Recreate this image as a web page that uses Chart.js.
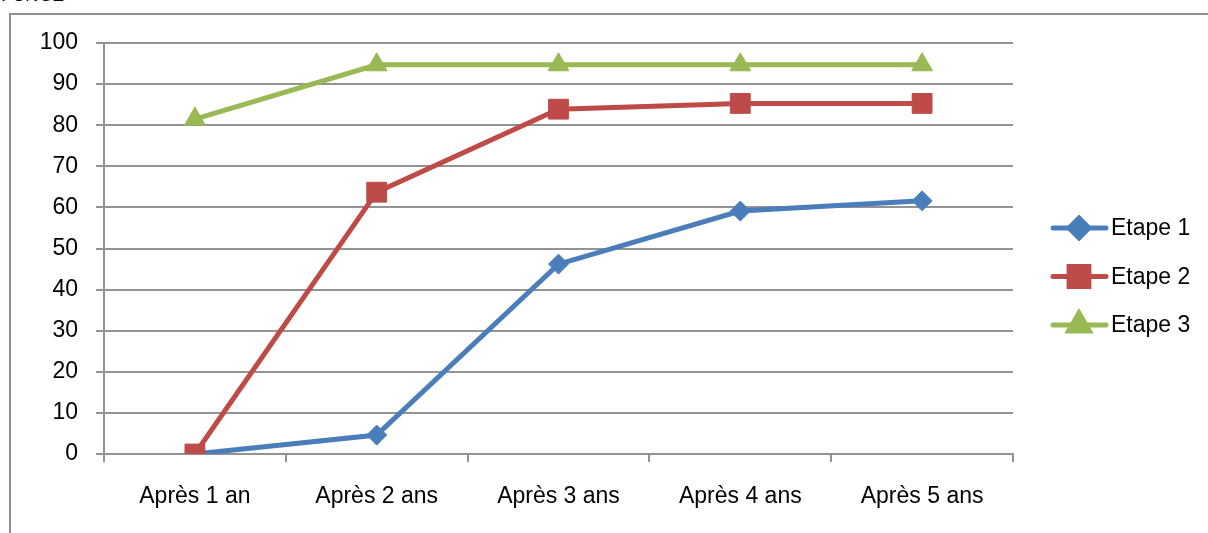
<!DOCTYPE html>
<html>
<head>
<meta charset="utf-8">
<script src="https://cdn.jsdelivr.net/npm/chart.js@4/dist/chart.umd.min.js"></script>
<style>
    body { margin: 0; background: #fff; width: 1208px; height: 533px; overflow: hidden; position: relative; }
    .caption { position: absolute; left: 2px; top: -15px; font: italic 18px "Liberation Sans", Arial, sans-serif; color: #000; }
    .frame { position: absolute; left: 9px; top: 13px; width: 1300px; height: 600px; border: 2px solid #8f8f8f; box-sizing: border-box; }
    #chart { position: absolute; left: 0; top: 0; }
</style>
</head>
<body>
<div class="caption">FUNGE</div>
<div class="frame"></div>
<canvas id="chart" width="1208" height="533"></canvas>

<script>
    // values
    const categories = ['Après 1 an', 'Après 2 ans', 'Après 3 ans', 'Après 4 ans', 'Après 5 ans'];
    const etape1 = [0, 4.6, 46.2, 59.1, 61.6];
    const etape2 = [0, 63.7, 83.9, 85.3, 85.3];
    const etape3 = [81.5, 94.7, 94.7, 94.7, 94.7];
    const seriesNames = ['Etape 1', 'Etape 2', 'Etape 3'];

    const FONT = '"Liberation Sans", Arial, sans-serif';
    const GRID = '#939393';

    // line + marker legend, like the spreadsheet one
    const sideLegend = {
        id: 'sideLegend',
        afterDraw(chart) {
            const ctx = chart.ctx;
            chart.data.datasets.forEach(function (ds, i) {
                const y = 228 + i * 48.5;
                ctx.save();
                ctx.strokeStyle = ds.borderColor;
                ctx.lineWidth = 5;
                ctx.lineCap = 'round';
                ctx.beginPath();
                ctx.moveTo(1053, y);
                ctx.lineTo(1106, y);
                ctx.stroke();
                ctx.fillStyle = ds.borderColor;
                ctx.strokeStyle = ds.borderColor;
                Chart.helpers.drawPoint(ctx, {
                    pointStyle: ds.pointStyle,
                    radius: ds.pointRadius,
                    rotation: 0,
                    borderWidth: 1
                }, 1079, y);
                ctx.fillStyle = '#000';
                ctx.font = '23px ' + FONT;
                ctx.textBaseline = 'middle';
                ctx.fillText(ds.label, 1111, y + 1);
                ctx.restore();
            });
        }
    };

    new Chart(document.getElementById('chart'), {
        type: 'line',
        data: {
            labels: categories,
            datasets: [
                { label: seriesNames[0], data: etape1, borderColor: '#4a7ebb', backgroundColor: '#4a7ebb',
                  pointStyle: 'rectRot', pointRadius: 10, order: 3 },
                { label: seriesNames[1], data: etape2, borderColor: '#be4b48', backgroundColor: '#be4b48',
                  pointStyle: 'rect', pointRadius: 14, order: 2 },
                { label: seriesNames[2], data: etape3, borderColor: '#98b954', backgroundColor: '#98b954',
                  pointStyle: 'triangle', pointRadius: 12, order: 1 }
            ].map(function (ds) {
                return Object.assign(ds, {
                    borderWidth: 5,
                    tension: 0,
                    pointBackgroundColor: ds.borderColor,
                    pointBorderColor: ds.borderColor,
                    pointBorderWidth: 1,
                    pointHoverRadius: ds.pointRadius
                });
            })
        },
        options: {
            responsive: false,
            animation: false,
            layout: { padding: { left: 0, top: 43, right: 195, bottom: 0 } },
            plugins: {
                legend: { display: false },
                tooltip: { enabled: false }
            },
            scales: {
                x: {
                    offset: true,
                    grid: { display: true, drawOnChartArea: false, drawTicks: true, tickLength: 8, offset: true, color: GRID, lineWidth: 2 },
                    border: { display: true, color: GRID, width: 2 },
                    ticks: { color: '#000', font: { family: FONT, size: 23 }, padding: 21, maxRotation: 0, autoSkip: false },
                    afterFit(scale) { scale.height = 79; }
                },
                y: {
                    min: 0,
                    max: 100,
                    grid: { color: GRID, lineWidth: 2, tickLength: 8 },
                    border: { display: true, color: GRID, width: 2 },
                    ticks: { stepSize: 10, color: '#000', font: { family: FONT, size: 23 }, padding: 18 },
                    afterFit(scale) { scale.width = 104; }
                }
            }
        },
        plugins: [sideLegend]
    });
</script>
</body>
</html>
